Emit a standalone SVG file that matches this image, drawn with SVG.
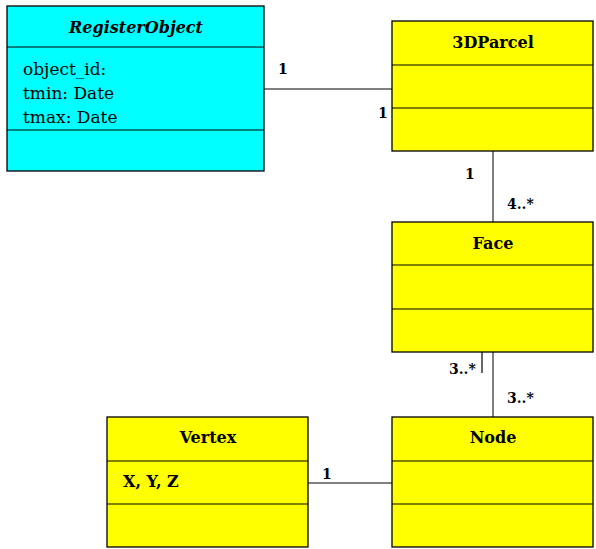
<svg xmlns="http://www.w3.org/2000/svg" width="596" height="549" viewBox="0 0 596 549">
  <style>
    .box { stroke: #000; stroke-width: 1.3; }
    .cyan { fill: #00ffff; }
    .yel { fill: #ffff00; }
    .div { stroke: #000; stroke-width: 1.2; }
    .title { font-family: "DejaVu Serif", "Liberation Serif", serif; font-size: 16px; font-weight: bold; text-anchor: middle; fill: #000; }
    .attr { font-family: "DejaVu Serif", "Liberation Serif", serif; font-size: 17px; fill: #000; }
    .mult { font-family: "DejaVu Serif", "Liberation Serif", serif; font-size: 14px; font-weight: bold; fill: #000; }
    .xyz { font-family: "DejaVu Serif", "Liberation Serif", serif; font-size: 16px; font-weight: bold; fill: #000; }
    .conn { stroke: #808080; stroke-width: 2; fill: none; }
  </style>
  <rect width="596" height="549" fill="#fff"/>

  <g id="connectors">
    <line class="conn" x1="264" y1="89" x2="392" y2="89"/>
    <line class="conn" x1="493" y1="151" x2="493" y2="222"/>
    <line class="conn" x1="493" y1="352" x2="493" y2="417"/>
    <line x1="482" y1="352" x2="482" y2="373" stroke="#000" stroke-width="1.2"/>
    <line class="conn" x1="308" y1="483" x2="392" y2="483"/>
    <text class="mult" x="278" y="74">1</text>
    <text class="mult" x="378" y="118">1</text>
    <text class="mult" x="465" y="179">1</text>
    <text class="mult" x="507" y="209">4..*</text>
    <text class="mult" x="449" y="374">3..*</text>
    <text class="mult" x="507" y="403">3..*</text>
    <text class="mult" x="322" y="479">1</text>
  </g>

  <g id="RegisterObject">
    <rect class="box cyan" x="7" y="6" width="257" height="165"/>
    <line class="div" x1="7" y1="47" x2="264" y2="47"/>
    <line class="div" x1="7" y1="130" x2="264" y2="130"/>
    <text class="title" x="136" y="33" font-style="italic">RegisterObject</text>
    <text class="attr" x="23" y="75">object_id:</text>
    <text class="attr" x="23" y="99">tmin: Date</text>
    <text class="attr" x="23" y="123">tmax: Date</text>
  </g>

  <g id="Parcel3D">
    <rect class="box yel" x="392" y="21" width="201" height="130"/>
    <line class="div" x1="392" y1="65" x2="593" y2="65"/>
    <line class="div" x1="392" y1="108" x2="593" y2="108"/>
    <text class="title" x="493" y="48">3DParcel</text>
  </g>

  <g id="Face">
    <rect class="box yel" x="392" y="222" width="201" height="130"/>
    <line class="div" x1="392" y1="265" x2="593" y2="265"/>
    <line class="div" x1="392" y1="309" x2="593" y2="309"/>
    <text class="title" x="493" y="249">Face</text>
  </g>

  <g id="Vertex">
    <rect class="box yel" x="107" y="417" width="201" height="130"/>
    <line class="div" x1="107" y1="461" x2="308" y2="461"/>
    <line class="div" x1="107" y1="504" x2="308" y2="504"/>
    <text class="title" x="208" y="443">Vertex</text>
    <text class="xyz" x="123" y="487">X, Y, Z</text>
  </g>

  <g id="Node">
    <rect class="box yel" x="392" y="417" width="201" height="130"/>
    <line class="div" x1="392" y1="461" x2="593" y2="461"/>
    <line class="div" x1="392" y1="504" x2="593" y2="504"/>
    <text class="title" x="493" y="443">Node</text>
  </g>
</svg>
